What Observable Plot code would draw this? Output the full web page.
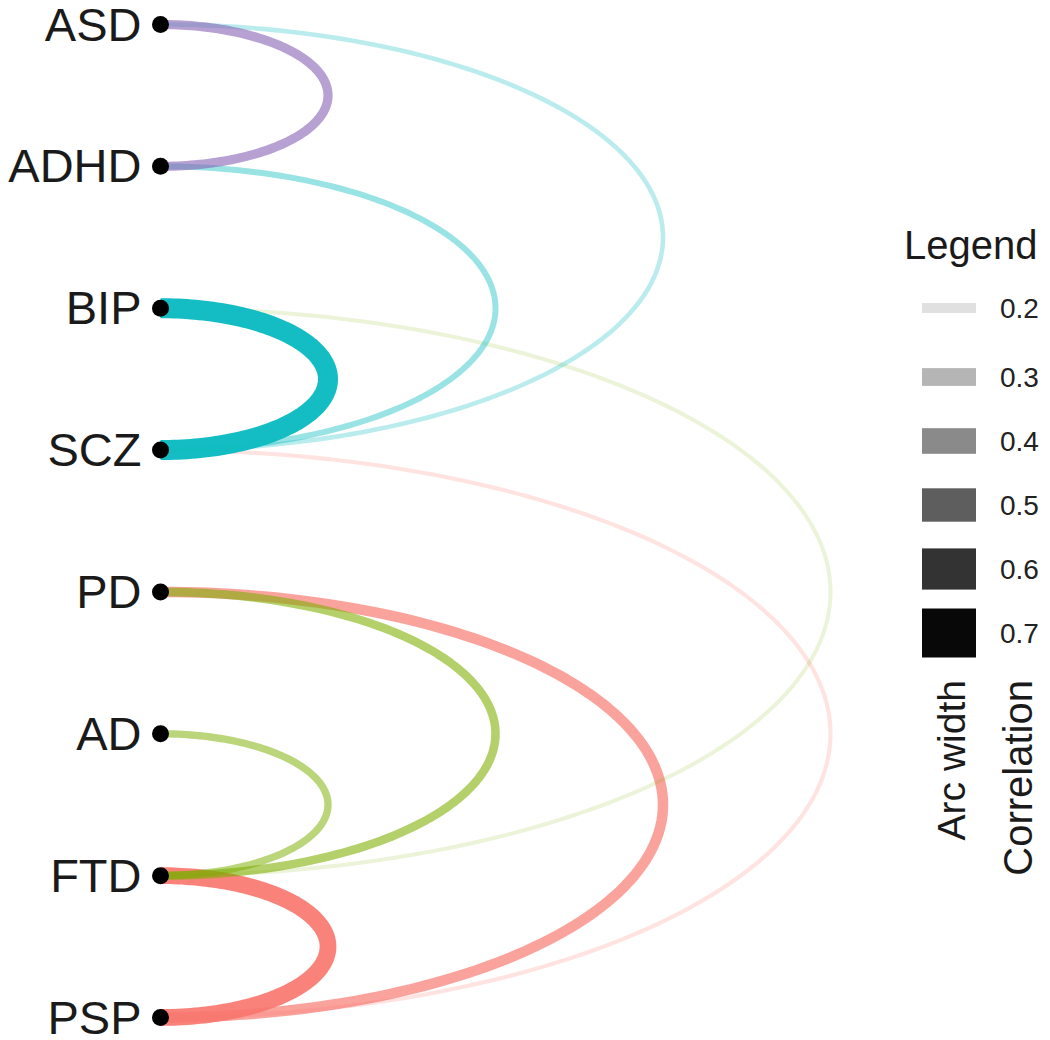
<!DOCTYPE html>
<html>
<head>
<meta charset="utf-8">
<script src="https://cdn.jsdelivr.net/npm/d3@7"></script>
<script src="https://cdn.jsdelivr.net/npm/@observablehq/plot@0.6"></script>
<style>
  html, body { margin: 0; padding: 0; background: #fff; }
  #wrap { position: relative; width: 1050px; height: 1040px; font-family: "Liberation Sans", Arial, Helvetica, sans-serif; }
  #legend { position: absolute; left: 0; top: 0; pointer-events: none; }
</style>
</head>
<body>
<div id="wrap"></div>
<script>
// ---- data ----
const nodes = ["ASD", "ADHD", "BIP", "SCZ", "PD", "AD", "FTD", "PSP"];
const linkSource = ["FTD", "PD",  "SCZ", "BIP", "PD",  "AD",  "BIP", "ASD", "ADHD", "ASD"];
const linkTarget = ["PSP", "PSP", "PSP", "FTD", "FTD", "FTD", "SCZ", "SCZ", "SCZ",  "ADHD"];
const linkCorr   = [0.62,  0.45,  0.21,  0.20,  0.39,  0.35,  0.70,  0.24,  0.30,   0.41];
const linkGroup  = ["red", "red", "red", "green", "green", "green", "cyan", "cyan", "cyan", "purple"];
const groupColors = {red: "#F8766D", green: "#7CAE00", cyan: "#13BDC3", purple: "#8A64B6"};
const legendValues = [0.2, 0.3, 0.4, 0.5, 0.6, 0.7];

// ---- scales for width / alpha ----
const tOf = v => Math.max(0, Math.min(1, (v - 0.2) / 0.5));
const arcWidth = v => 4 + 16 * Math.pow(tOf(v), 1.3);
const arcAlpha = v => 0.15 + 0.85 * Math.pow(tOf(v), 0.7);
const keyHeight = d3.scaleLinear([0.2, 0.7], [10, 49]);
const keyAlpha = d3.scaleLinear([0.2, 0.7], [0.12, 0.97]);

// ---- arc geometry in data space (x: distance units, y: node index) ----
const links = linkSource.map((s, k) => {
  const i = nodes.indexOf(s), j = nodes.indexOf(linkTarget[k]);
  const a = Math.min(i, j), b = Math.max(i, j), n = b - a, c = (a + b) / 2;
  const pts = d3.range(0, 121).map(m => {
    const t = Math.PI * m / 120;
    return {x: n * Math.sin(t), y: c - (n / 2) * Math.cos(t)};
  });
  return {pts, corr: linkCorr[k], color: groupColors[linkGroup[k]]};
});

const fontFamily = '"Liberation Sans", Arial, Helvetica, sans-serif';

const chart = Plot.plot({
  width: 1050,
  height: 1040,
  margin: 0,
  style: {fontFamily, background: "white", overflow: "visible"},
  x: {domain: [0, 1], range: [160, 327.5], axis: null},
  y: {domain: [0, 7], range: [24, 1017], axis: null},
  marks: [
    ...links.map(l => Plot.line(l.pts, {
      x: "x", y: "y", stroke: l.color,
      strokeWidth: arcWidth(l.corr), strokeOpacity: arcAlpha(l.corr),
      strokeLinecap: "butt", curve: "linear"
    })),
    Plot.dot(nodes, {x: () => 0, y: (d, i) => i, r: 8.5, fill: "#000", stroke: null}),
    Plot.text(nodes, {x: () => 0, y: (d, i) => i, text: d => d, textAnchor: "end",
      dx: -19, dy: 1, fontSize: 47, fill: "#1a1a1a"})
  ]
});

const wrap = document.getElementById("wrap");
wrap.appendChild(chart);

// ---- legend ----
const svg = d3.select(wrap).append("svg").attr("id", "legend")
  .attr("width", 1050).attr("height", 1040)
  .style("font-family", fontFamily);
svg.append("text").attr("x", 904).attr("y", 245).attr("dominant-baseline", "central")
  .attr("font-size", 40).attr("fill", "#1a1a1a").text("Legend");
const rows = svg.selectAll("g.row").data(legendValues).join("g")
  .attr("transform", (d, i) => `translate(0,${i === 0 ? 308 : 313 + i * 64})`);
rows.append("rect").attr("x", 922).attr("width", 54)
  .attr("y", d => -keyHeight(d) / 2).attr("height", d => keyHeight(d))
  .attr("fill", "#000").attr("fill-opacity", d => keyAlpha(d));
rows.append("text").attr("x", 1000).attr("dominant-baseline", "central")
  .attr("font-size", 28).attr("fill", "#222").text(d => d.toFixed(1));
svg.append("text").attr("transform", "translate(965,680) rotate(-90)")
  .attr("text-anchor", "end").attr("font-size", 39).attr("fill", "#1a1a1a").text("Arc width");
svg.append("text").attr("transform", "translate(1032,680) rotate(-90)")
  .attr("text-anchor", "end").attr("font-size", 40).attr("fill", "#1a1a1a").text("Correlation");
</script>
</body>
</html>
